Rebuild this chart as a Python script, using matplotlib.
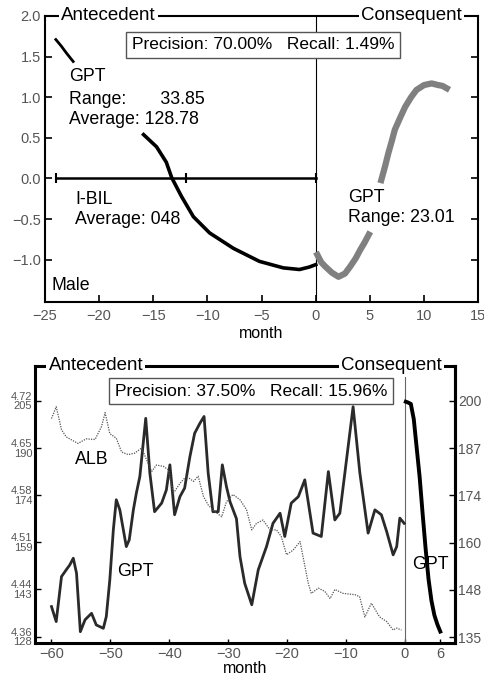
import numpy as np
import matplotlib
matplotlib.use("Agg")
import matplotlib.pyplot as plt

plt.rcParams['font.family'] = ['Liberation Sans', 'DejaVu Sans']
plt.rcParams['axes.unicode_minus'] = True

# ---- top chart data (normalised values) ----
gpt_pre_x = [-24.0, -23.5, -23.0, -22.4]
gpt_pre_y = [1.71, 1.63, 1.54, 1.44]

ante_x = [-15.9, -14.7, -13.8, -13.3, -12.4, -11.3, -9.8, -7.6, -5.2, -3.0, -1.5, -0.6, 0.0]
ante_y = [0.54, 0.39, 0.20, 0.01, -0.22, -0.47, -0.67, -0.86, -1.02, -1.10, -1.12, -1.09, -1.06]

cons_x = [0.15, 0.5, 0.85, 1.5, 2.1, 2.7, 3.2, 3.7, 4.1, 4.5, 4.9, np.nan,
          6.05, 6.4, 6.7, 7.0, 7.3, 7.8, 8.25, 8.8, 9.3, 10.0, 10.7, 11.3, 11.7, 12.1]
cons_y = [-0.94, -1.03, -1.08, -1.16, -1.21, -1.17, -1.08, -0.98, -0.88, -0.79, -0.69, np.nan,
          -0.02, 0.15, 0.31, 0.45, 0.60, 0.75, 0.88, 1.00, 1.09, 1.15, 1.17, 1.15, 1.14, 1.11]

ibil_x = [-24, -12, 0]
ibil_y = [0, 0, 0]

# ---- bottom chart data ----
gpt_x = [-60, -59.2, -58.3, -57.5, -56.9, -56.3, -55.75, -55.1, -54.3, -53.2, -52.4, -51.2, -50.7,
         -50.1, -49.5, -49.0, -48.4, -47.3, -46.8, -46.1, -45.6, -45.0, -44.0, -43.3, -42.5, -41.3,
         -40.5, -39.9, -39.1, -38.2, -37.4, -36.5, -35.7, -34.8, -34.1, -33.4, -32.6, -31.7, -31.0,
         -30.3, -29.7, -28.6, -28.0, -27.2, -26.0, -24.9, -23.5, -22.4, -21.2, -20.4, -19.3, -18.1,
         -17.0, -15.6, -14.2, -13.0, -11.9, -11.05, -10.2, -8.8, -7.65, -6.25, -5.1, -4.0, -3.1,
         -2.0, -1.4, -0.87, -0.13]
gpt_y = [137.8, 132.9, 147.6, 149.8, 151.4, 153.6, 148.7, 129.6, 133.5, 135.6, 131.8, 130.7, 134.5,
         146.5, 162.9, 172.7, 169.4, 157.4, 159.6, 169.4, 174.8, 180.3, 199.3, 181.4, 168.8, 171.6,
         175.9, 184.1, 167.8, 173.7, 176.5, 186.8, 194.4, 197.7, 199.9, 181.4, 168.8, 168.8, 184.1,
         177.0, 172.1, 166.5, 154.1, 145.4, 138.4, 149.8, 157.4, 165.0, 168.3, 160.7, 171.6, 173.7,
         179.2, 161.8, 160.7, 181.9, 166.1, 168.3, 181.4, 203.1, 181.4, 161.8, 169.4, 167.8, 162.3,
         154.7, 157.4, 166.7, 165.0]

alb_x = [-60, -59.2, -58.3, -57.5, -55.5, -54.1, -52.6, -51.5, -50.9, -50.1, -49.0, -48.1, -47.0,
         -45.9, -44.7, -43.0, -42.2, -41.0, -40.2, -39.3, -38.2, -37.1, -35.9, -35.1, -34.2, -33.4,
         -32.3, -31.1, -30.3, -29.2, -28.0, -26.9, -26.0, -25.2, -24.1, -22.9, -21.8, -21.0, -20.1,
         -19.0, -17.8, -17.3, -16.4, -15.9, -14.7, -13.6, -12.7, -11.9, -10.5, -8.5, -7.7, -6.8,
         -5.7, -4.3, -3.1, -2.0, -1.4, -0.6]
alb_y = [4.693, 4.711, 4.676, 4.665, 4.655, 4.662, 4.661, 4.681, 4.702, 4.670, 4.663, 4.642, 4.638,
         4.640, 4.648, 4.612, 4.622, 4.620, 4.615, 4.579, 4.594, 4.605, 4.597, 4.605, 4.574, 4.561,
         4.551, 4.543, 4.566, 4.577, 4.569, 4.554, 4.523, 4.533, 4.538, 4.523, 4.523, 4.513, 4.485,
         4.492, 4.505, 4.482, 4.441, 4.426, 4.434, 4.429, 4.418, 4.432, 4.426, 4.424, 4.421, 4.390,
         4.411, 4.390, 4.383, 4.370, 4.373, 4.370]

gpt_c_x = [0.15, 0.5, 1.0, 1.5, 2.0, 2.5, 3.0, 3.5, 4.0, 4.5, 5.0, 5.5, 6.0]
gpt_c_y = [199.8, 199.6, 199.2, 195.0, 187.0, 179.0, 169.0, 159.5, 151.0, 145.0, 141.0, 138.5, 136.5]

left_ticks = [128, 143.4, 158.8, 174.2, 189.6, 205]
left_labels = ["4.36\n128", "4.44\n143", "4.51\n159", "4.58\n174", "4.65\n190", "4.72\n205"]
right_ticks = [135, 148, 161, 174, 187, 200]
right_labels = ["135", "148", "160", "174", "187", "200"]

TICK_C = '#555555'
fig = plt.figure(figsize=(4.84, 6.75), dpi=100)

# ================= top chart =================
ax = fig.add_axes([0.093, 0.5526, 0.895, 0.4237])
ax.set_xlim(-25, 15)
ax.set_ylim(-1.52, 2.0)
for s in ax.spines.values():
    s.set_linewidth(1.5)
ax.set_xticks([-25, -20, -15, -10, -5, 0, 5, 10, 15])
ax.set_yticks([-1.0, -0.5, 0.0, 0.5, 1.0, 1.5, 2.0])
ax.set_yticklabels(["\u22121.0", "\u22120.5", "0.0", "0.5", "1.0", "1.5", "2.0"])
ax.set_xticklabels(["\u221225", "\u221220", "\u221215", "\u221210", "\u22125", "0", "5", "10", "15"])
ax.tick_params(direction='in', length=5, width=1.2, labelsize=10.5, labelcolor=TICK_C,
               right=True, pad=3)
ax.tick_params(axis='x', pad=5)
ax.set_xlabel("month", fontsize=11.5, labelpad=2)

ax.axvline(0, color='black', lw=0.8)
ax.plot(gpt_pre_x, gpt_pre_y, color='black', lw=2)
ax.plot(ante_x, ante_y, color='black', lw=2.6)
ax.plot(cons_x, cons_y, color='#808080', lw=4.5)
ax.plot(ibil_x, ibil_y, color='black', lw=1.8, marker='|', markersize=7, markeredgewidth=1.5)

bb = dict(facecolor='white', edgecolor='none', pad=1.5)
ax.text(-23.5, 2.0, "Antecedent", fontsize=13.5, va='center', ha='left', bbox=bb)
ax.text(13.5, 2.0, "Consequent", fontsize=13.5, va='center', ha='right', bbox=bb)
ax.text(-4.85, 1.645, "Precision: 70.00%   Recall: 1.49%", fontsize=12.5, ha='center', va='center',
        bbox=dict(facecolor='white', edgecolor='#555555', lw=1, pad=4))
ax.text(-22.8, 1.25, "GPT", fontsize=12.8, va='center')
ax.text(-22.8, 0.97, "Range:       33.85", fontsize=12.8, va='center')
ax.text(-22.8, 0.72, "Average: 128.78", fontsize=12.8, va='center')
ax.text(-22.2, -0.26, "I-BIL", fontsize=12.8, va='center')
ax.text(-22.2, -0.51, "Average: 048", fontsize=12.8, va='center')
ax.text(3.0, -0.24, "GPT", fontsize=12.8, va='center')
ax.text(3.0, -0.48, "Range: 23.01", fontsize=12.8, va='center')
ax.text(-24.4, -1.32, "Male", fontsize=12.8, va='center')

# ================= bottom chart =================
ax2 = fig.add_axes([0.0723, 0.0474, 0.8678, 0.4104])
ax2.set_xlim(-62.8, 8.5)
ax2.set_ylim(125.9, 216.4)
for s in ax2.spines.values():
    s.set_linewidth(2.2)
ax2.set_xticks([-60, -50, -40, -30, -20, -10, 0, 6])
ax2.set_xticklabels(["\u221260", "\u221250", "\u221240", "\u221230", "\u221220", "\u221210", "0", "6"])
ax2.set_yticks(left_ticks)
ax2.set_yticklabels(left_labels, linespacing=0.95)
ax2.tick_params(axis='y', direction='in', length=4, width=1, labelsize=8, labelcolor=TICK_C, pad=2)
ax2.tick_params(axis='x', direction='in', length=3, width=1, labelsize=10.5, labelcolor=TICK_C, pad=3)
ax2.set_xlabel("month", fontsize=11.5, labelpad=0)

ax2.axvline(0, color='#666666', lw=0.8)
ax2.plot(gpt_x, gpt_y, color='#2a2a2a', lw=2.0)

ax_alb = ax2.twinx()
ax_alb.set_ylim(4.3502, 4.7733)
ax_alb.plot(alb_x, alb_y, color='#555555', lw=0.9, ls=(0, (1, 1)))
ax_alb.set_yticks([])
for s in ax_alb.spines.values():
    s.set_visible(False)

ax_c = ax2.twinx()
ax_c.set_ylim(133.35, 209.64)
ax_c.plot(gpt_c_x, gpt_c_y, color='black', lw=2.8)
ax_c.set_yticks(right_ticks)
ax_c.set_yticklabels(right_labels)
ax_c.tick_params(axis='y', direction='in', length=4, width=1, labelsize=10, labelcolor=TICK_C, pad=2)
for k, s in ax_c.spines.items():
    s.set_visible(k == 'right')
    s.set_linewidth(2.2)

ax2.text(-60.5, 216.4, "Antecedent", fontsize=13.5, va='center', ha='left', bbox=bb)
ax2.text(6.3, 216.4, "Consequent", fontsize=13.5, va='center', ha='right', bbox=bb)
ax2.text(-26.1, 208.1, "Precision: 37.50%   Recall: 15.96%", fontsize=12.5, ha='center', va='center',
         bbox=dict(facecolor='white', edgecolor='#555555', lw=1, pad=4))
ax2.text(-56.0, 185.7, "ALB", fontsize=12.8, va='center')
ax2.text(-48.9, 149.1, "GPT", fontsize=12.8, va='center')
ax2.text(1.3, 151.5, "GPT", fontsize=12.8, va='center')

fig.savefig("out.png", dpi=100)
